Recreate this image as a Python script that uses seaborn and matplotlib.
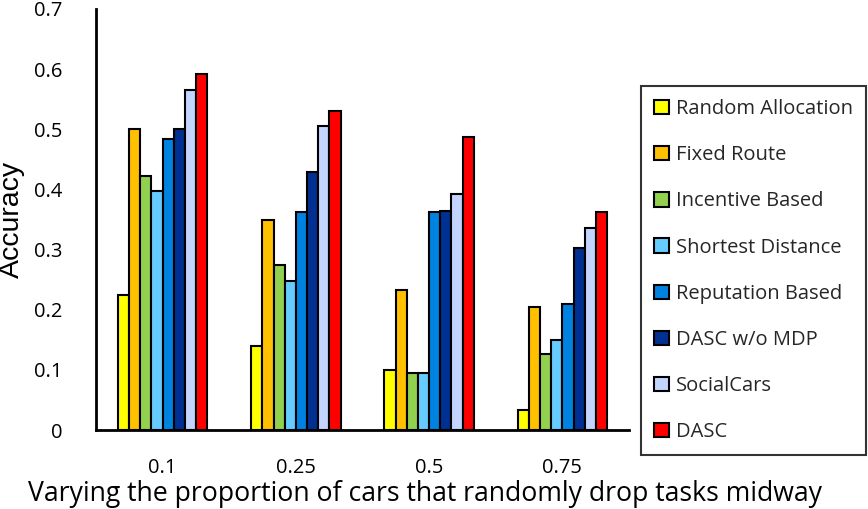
import matplotlib
matplotlib.use("Agg")
import matplotlib.pyplot as plt
import seaborn as sns
import pandas as pd
from matplotlib.patches import Patch

categories = ["0.1", "0.25", "0.5", "0.75"]
methods = ["Random Allocation", "Fixed Route", "Incentive Based", "Shortest Distance",
           "Reputation Based", "DASC w/o MDP", "SocialCars", "DASC"]
random_allocation = [0.225, 0.140, 0.100, 0.033]
fixed_route = [0.500, 0.349, 0.232, 0.204]
incentive_based = [0.423, 0.275, 0.094, 0.126]
shortest_distance = [0.398, 0.248, 0.094, 0.150]
reputation_based = [0.484, 0.363, 0.363, 0.210]
dasc_wo_mdp = [0.501, 0.429, 0.364, 0.303]
socialcars = [0.566, 0.506, 0.393, 0.336]
dasc = [0.592, 0.531, 0.488, 0.363]
colors = ["#FFFF00", "#FFC000", "#92D050", "#66CCFF", "#0082E0", "#003091", "#C3D5FF", "#FF0000"]

series = [random_allocation, fixed_route, incentive_based, shortest_distance,
          reputation_based, dasc_wo_mdp, socialcars, dasc]
rows = []
for m, vals in zip(methods, series):
    for c, v in zip(categories, vals):
        rows.append({"cat": c, "method": m, "acc": v})
df = pd.DataFrame(rows)

sns.set_theme(style="white")
plt.rcParams["font.family"] = ["Open Sans", "DejaVu Sans"]

fig = plt.figure(figsize=(8.68, 5.09), dpi=100)
ax = fig.add_axes([96/868, 1-430/509, (629-96)/868, (430-9)/509])
sns.barplot(data=df, x="cat", y="acc", hue="method", hue_order=methods, order=categories,
            palette=colors, width=0.67, edgecolor="black", linewidth=1.5,
            saturation=1, legend=False, ax=ax)
ax.set_ylim(0, 0.7)
ax.set_xlim(-0.5, 3.5)
ax.set_yticks([0, 0.1, 0.2, 0.3, 0.4, 0.5, 0.6, 0.7])
ax.set_yticklabels(["0", "0.1", "0.2", "0.3", "0.4", "0.5", "0.6", "0.7"])
ax.tick_params(axis="y", length=0, pad=24, labelsize=14.5, colors="black")
ax.tick_params(axis="x", length=0, pad=20, labelsize=14.5, colors="black")
for s in ["top", "right"]:
    ax.spines[s].set_visible(False)
for s in ["left", "bottom"]:
    ax.spines[s].set_color("black")
    ax.spines[s].set_linewidth(2)
ax.set_xlabel("Varying the proportion of cars that randomly drop tasks midway", fontsize=19.2, color="black")
ax.xaxis.set_label_coords((425-96)/533, -(494-430)/421)
ax.xaxis.label.set_verticalalignment("center")
ax.set_ylabel("Accuracy", fontsize=20.5, color="black", family=["Liberation Sans", "DejaVu Sans"])
ax.yaxis.set_label_coords(-(96-12)/533, 0.5)
ax.yaxis.label.set_verticalalignment("center")

handles = [Patch(facecolor=c, edgecolor="black", linewidth=1.5, label=m) for c, m in zip(colors, methods)]
leg = fig.legend(handles=handles, loc="upper left", bbox_to_anchor=(641/868, 1-86/509),
                 frameon=True, fontsize=14.5, handlelength=0.72, handleheight=0.72,
                 handletextpad=0.35, labelspacing=1.3, borderpad=0.65, fancybox=False,
                 borderaxespad=0)
leg.get_frame().set_edgecolor("black")
leg.get_frame().set_linewidth(1.5)

fig.savefig("out.png", dpi=100)
